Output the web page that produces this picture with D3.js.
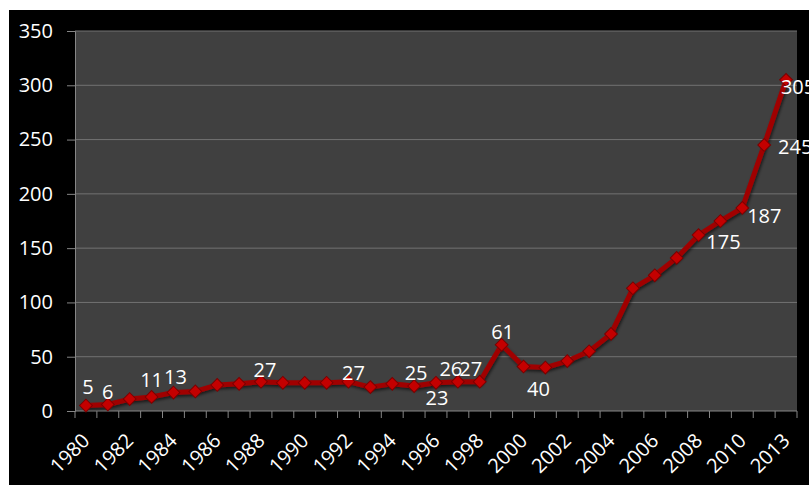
<!DOCTYPE html>
<html>
<head>
<meta charset="utf-8">
<script src="https://cdn.jsdelivr.net/npm/d3@7"></script>
<style>
  body { margin: 0; background: #fff; }
  svg { display: block; }
</style>
</head>
<body>
<div id="chart"></div>
<script>
// categories (only every 2nd label shows)
const years = [
  "1980", "1981", "1982", "1983", "1984", "1985", "1986", "1987", "1988", "1989",
  "1990", "1991", "1992", "1993", "1994", "1995", "1996", "1997", "1998", "1999",
  "2000", "2001", "2002", "2003", "2004", "2005", "2006", "2007", "2008", "2009",
  "2010", "2011", "2013"
];
const values = [
  5, 6, 11, 13, 17, 18, 24, 25, 27, 26,
  26, 26, 27, 22, 25, 23, 26, 27, 27, 61,
  41, 40, 46, 55, 71, 113, 125, 141, 162, 175,
  187, 245, 305
];
const yTicks = [0, 50, 100, 150, 200, 250, 300, 350];
// data labels: [index, text, dx, dy] (offset of label centre from its point)
const labels = [
  [0, "5", 2, -19],
  [1, "6", 0, -12],
  [3, "11", 0, -17],
  [4, "13", 2, -16],
  [8, "27", 4, -12],
  [12, "27", 5, -9],
  [15, "25", 2, -13],
  [16, "23", 1, 15],
  [17, "26", -7, -13],
  [18, "27", -9, -13],
  [19, "61", 1, -13],
  [21, "40", -7, 21],
  [29, "175", 3, 21],
  [30, "187", 22, 8],
  [31, "245", 31, 2],
  [32, "305", 12, 7]
];

const W = 809, H = 485;
const margin = { top: 31, right: 12, bottom: 74, left: 75 };
const font = "'Open Sans', 'Liberation Sans', sans-serif";

const svg = d3.select("#chart").append("svg")
  .attr("width", W).attr("height", H);

const defs = svg.append("defs");
const shadow = defs.append("filter").attr("id", "shadow")
  .attr("x", "-10%").attr("y", "-10%").attr("width", "120%").attr("height", "120%");
shadow.append("feDropShadow")
  .attr("dx", 1).attr("dy", 2).attr("stdDeviation", 1.5)
  .attr("flood-color", "#000").attr("flood-opacity", 0.6);

// black chart area (white strip on top and left)
svg.append("rect")
  .attr("x", 9).attr("y", 10).attr("width", W - 9).attr("height", H - 10)
  .attr("fill", "#000");

const x = d3.scaleBand()
  .domain(years)
  .range([margin.left, W - margin.right]);
const y = d3.scaleLinear()
  .domain([0, 350])
  .range([H - margin.bottom, margin.top]);

const cx = (i) => x(years[i]) + x.bandwidth() / 2;

// plot background
svg.append("rect")
  .attr("x", margin.left).attr("y", margin.top)
  .attr("width", W - margin.right - margin.left)
  .attr("height", H - margin.bottom - margin.top)
  .attr("fill", "#404040");

// gridlines
svg.append("g")
  .selectAll("line")
  .data(yTicks.filter((t) => t > 0))
  .enter()
  .append("line")
  .attr("x1", margin.left).attr("x2", W - margin.right)
  .attr("y1", (d) => y(d)).attr("y2", (d) => y(d))
  .attr("stroke", "#727272").attr("stroke-width", 1);

// y axis
const yAxis = svg.append("g")
  .attr("transform", `translate(${margin.left},0)`)
  .call(d3.axisLeft(y).tickValues(yTicks).tickSize(8).tickPadding(14));
yAxis.select(".domain").attr("stroke", "#868686");
yAxis.selectAll(".tick line").attr("stroke", "#868686");
yAxis.selectAll("text")
  .attr("fill", "#fff")
  .style("font-family", font)
  .style("font-size", "20px");

// x axis: ticks on category boundaries
const xAxisG = svg.append("g");
xAxisG.append("line")
  .attr("x1", margin.left).attr("x2", W - margin.right)
  .attr("y1", y(0)).attr("y2", y(0))
  .attr("stroke", "#868686");
xAxisG.selectAll(".xtick")
  .data(d3.range(years.length + 1))
  .enter()
  .append("line")
  .attr("class", "xtick")
  .attr("x1", (i) => margin.left + i * x.step())
  .attr("x2", (i) => margin.left + i * x.step())
  .attr("y1", y(0)).attr("y2", y(0) + 7)
  .attr("stroke", "#868686");
xAxisG.selectAll(".xlabel")
  .data(years.filter((d, i) => i % 2 === 0))
  .enter()
  .append("text")
  .attr("class", "xlabel")
  .attr("transform", (d) => `translate(${x(d) + x.bandwidth() / 2 + 5},442) rotate(-45)`)
  .attr("text-anchor", "end")
  .attr("fill", "#fff")
  .style("font-family", font)
  .style("font-size", "20px")
  .text((d) => d);

// line
const line = d3.line()
  .x((d, i) => cx(i))
  .y((d) => y(d));

svg.append("path")
  .datum(values)
  .attr("d", line)
  .attr("fill", "none")
  .attr("stroke", "#a00000")
  .attr("stroke-width", 5)
  .attr("stroke-linejoin", "round")
  .attr("filter", "url(#shadow)");

// diamond markers
const diamond = d3.symbol().type(d3.symbolSquare).size(82);
svg.append("g")
  .selectAll("path")
  .data(values)
  .enter()
  .append("path")
  .attr("d", diamond)
  .attr("transform", (d, i) => `translate(${cx(i)},${y(d)}) rotate(45)`)
  .attr("fill", "#c40000")
  .attr("stroke", "#7a0000")
  .attr("stroke-width", 1);

// data labels
svg.append("g")
  .selectAll("text")
  .data(labels)
  .enter()
  .append("text")
  .attr("x", (d) => cx(d[0]) + d[2])
  .attr("y", (d) => y(values[d[0]]) + d[3])
  .attr("dy", "0.35em")
  .attr("text-anchor", "middle")
  .attr("fill", "#fff")
  .style("font-family", font)
  .style("font-size", "20px")
  .text((d) => d[1]);
</script>
</body>
</html>
